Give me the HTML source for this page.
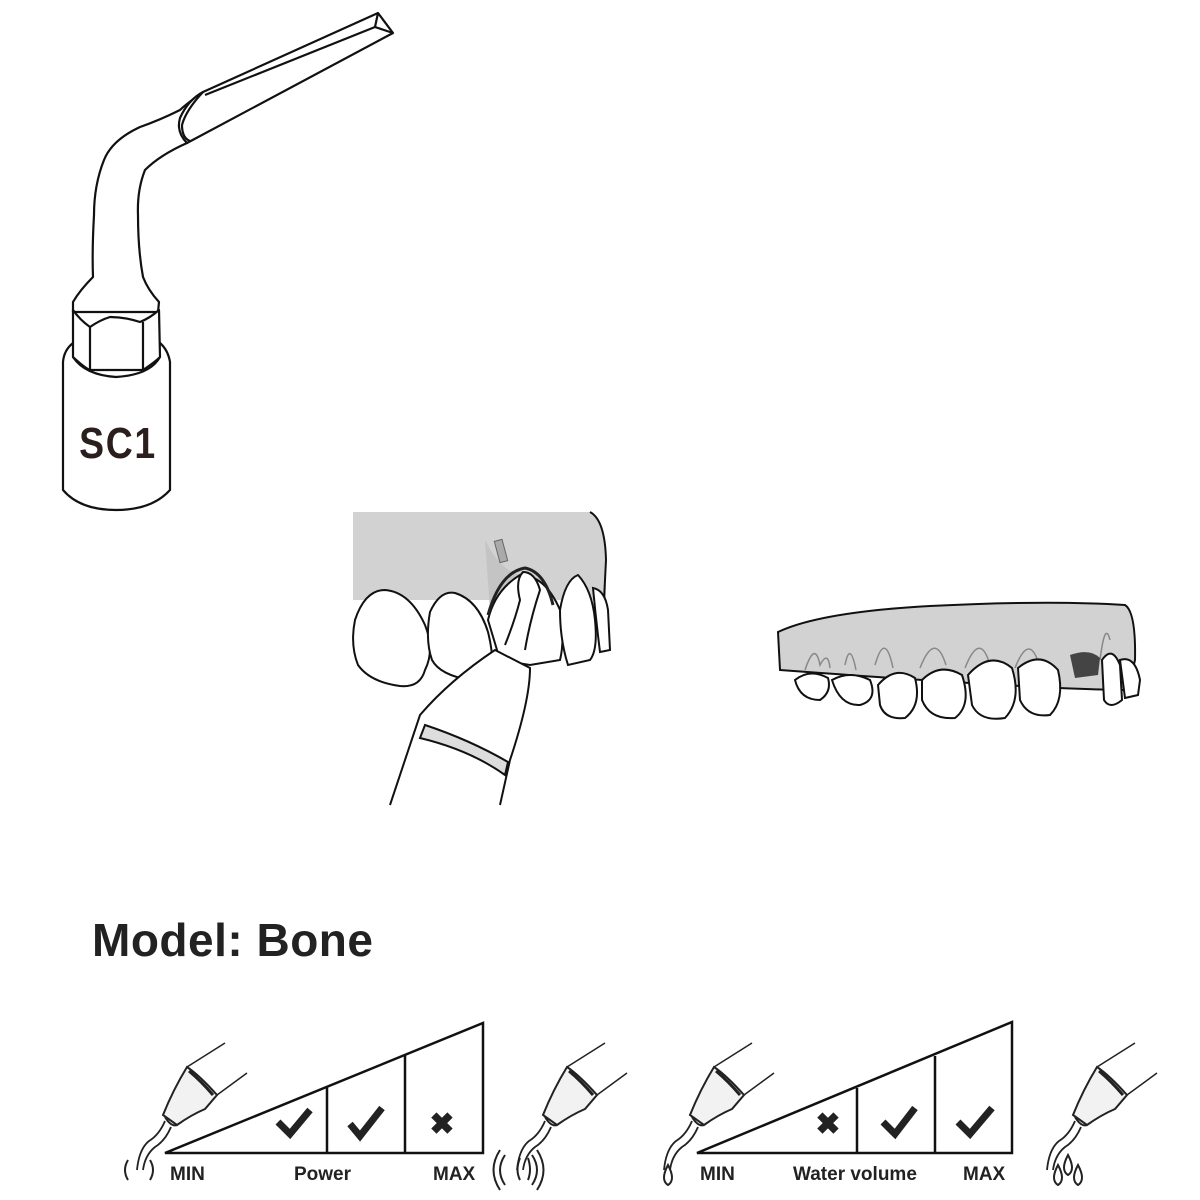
<!DOCTYPE html>
<html><head><meta charset="utf-8"><style>
html,body{margin:0;padding:0;background:#fff;}
svg{display:block;}
</style></head><body>
<svg width="1200" height="1200" viewBox="0 0 1200 1200" xmlns="http://www.w3.org/2000/svg">
<defs>
<g id="hp">
 <path d="M62 22 L100 -2 M92 50 L122 28" stroke="#222" stroke-width="1.5" fill="none"/>
 <path d="M62 22 Q74 30 92 50 L80 64 Q66 70 52 80 L38 70 Q48 45 62 22 Z" fill="#f2f2f2" stroke="#222" stroke-width="2"/>
 <path d="M64 26 Q76 36 88 50" stroke="#222" stroke-width="3" fill="none"/>
 <path d="M40 72 Q46 82 52 80" stroke="#222" stroke-width="2" fill="none"/>
 <path d="M40 76 Q34 90 24 96 Q14 104 12 125 M46 82 Q40 96 30 102 Q20 110 18 125" stroke="#222" stroke-width="1.8" fill="none"/>
</g>
</defs>

<!-- SC1 tip -->
<g stroke="#111" stroke-width="2.2" fill="#fff" stroke-linejoin="round">
 <!-- shank -->
 <path d="M203 92 Q185 105 180 110 Q160 120 140 127 Q112 140 104 160 Q94 185 94 215 Q92 250 93 277 Q80 290 73 302 L73 312 L158 312 L159 302 Q148 290 143 277 Q138 250 138 215 Q137 190 145 170 Q160 155 187 143 Z"/>
 <!-- blade -->
 <path d="M203 92 L378 13 L393 33 L187 143 Q176 132 180 118 Q188 100 203 92 Z"/>
 <path d="M203 92 Q186 110 182 125 Q182 138 190 141" fill="none"/>
 <path d="M375 27 L393 33 M375 27 L378 13" fill="none"/>
 <path d="M205 95 L375 27" fill="none"/>
 <!-- cylinder -->
 <path d="M63 362 L63 490 Q80 510 116 510 Q152 510 170 490 L170 362 Q168 350 160 343 L73 343 Q64 350 63 362 Z"/>
 <path d="M73 357 Q85 375 116 377 Q150 375 160 357" fill="none"/>
 <!-- hex -->
 <path d="M73 310 L73 357 Q85 368 90 370 L143 370 Q155 362 160 357 L159 310 Q150 318 140 322 Q125 317 110 317 Q100 320 90 327 Q80 320 73 310 Z"/>
 <path d="M90 327 L90 370 M143 322 L143 370" fill="none"/>
</g>
<text x="118" y="458" font-family="Liberation Sans, sans-serif" font-weight="bold" font-size="44" text-anchor="middle" fill="#2a1f1c" transform="translate(118 0) scale(0.85 1) translate(-118 0)" letter-spacing="2">SC1</text>

<!-- Left dental illustration -->
<path d="M353 512 L590 512 Q605 520 606 560 L606 600 L353 600 Z" fill="#d2d2d2"/>
<path d="M485 540 Q500 570 520 575 L490 610 Z" fill="#c4c4c4"/>
<path d="M590 512 Q605 520 606 560 L604 600" stroke="#111" stroke-width="2" fill="none"/>
<g stroke="#111" stroke-width="2" fill="#fff">
 <path d="M355 620 Q365 590 385 590 Q410 592 425 625 Q435 650 425 670 Q420 688 400 686 Q370 682 358 665 Q350 645 355 620 Z"/>
 <path d="M430 612 Q440 590 455 593 Q478 600 488 632 Q495 660 490 675 L470 680 Q440 675 432 660 Q425 640 430 612 Z"/>
 <path d="M488 620 Q495 590 520 575 Q545 575 560 610 Q565 640 560 660 L530 665 L500 660 Z"/>
 <path d="M560 610 Q565 580 578 575 Q592 590 595 620 Q598 650 590 660 L568 665 Q560 640 560 610 Z"/>
 <path d="M593 588 Q605 590 608 610 L610 650 L600 652 Q596 620 593 588 Z"/>
 <path d="M390 805 L420 715 Q450 680 495 650 L530 668 Q530 700 510 760 L500 805" />
 <path d="M420 738 Q470 750 505 775 L508 762 Q470 740 425 725 Z" fill="#ddd"/>
 <path d="M505 645 Q515 620 520 600 Q515 580 523 572 Q535 572 540 590 Q530 620 525 650" />
</g>
<path d="M488 615 Q500 572 525 568 Q545 572 553 605" stroke="#222" stroke-width="3" fill="none"/>
<rect x="497" y="540" width="8" height="22" fill="#aaa" stroke="#666" transform="rotate(-15 501 551)"/>

<!-- Right dental illustration -->
<path d="M778 632 Q820 612 930 606 Q1050 600 1125 605 Q1136 612 1135 660 L1128 690 Q1050 690 780 670 Z" fill="#d2d2d2" stroke="#111" stroke-width="2"/>
<g stroke="#888" stroke-width="1.5" fill="none">
 <path d="M805 670 Q815 640 820 665 Q828 650 830 668 M845 665 Q850 640 856 670 M875 665 Q885 630 893 668 M920 668 Q935 630 946 665 M965 668 Q980 630 990 665 M1015 668 Q1030 630 1040 668 M1100 660 Q1105 620 1110 640"/>
</g>
<path d="M1070 655 Q1090 648 1100 658 L1098 675 L1075 678 Z" fill="#444"/>
<g stroke="#111" stroke-width="2" fill="#fff">
 <path d="M795 680 Q810 668 828 678 Q832 692 820 700 Q800 700 795 680 Z"/>
 <path d="M832 680 Q850 670 870 680 Q878 700 860 705 Q840 706 832 680 Z"/>
 <path d="M878 685 Q895 665 915 678 Q922 705 905 718 Q885 720 880 705 Z"/>
 <path d="M922 680 Q940 662 962 675 Q972 705 955 718 Q930 720 922 700 Z"/>
 <path d="M968 675 Q990 650 1012 668 Q1022 700 1005 718 Q980 722 972 705 Z"/>
 <path d="M1018 668 Q1040 650 1058 670 Q1065 700 1050 715 Q1028 718 1020 700 Z"/>
 <path d="M1102 660 Q1112 645 1120 665 L1122 700 Q1110 710 1104 700 Z"/>
 <path d="M1120 660 Q1135 655 1140 680 L1138 695 L1125 698 Z"/>
</g>

<!-- Title -->
<text x="92" y="956" font-family="Liberation Sans, sans-serif" font-weight="bold" font-size="46" fill="#222" letter-spacing="0.5">Model: Bone</text>

<!-- Power chart -->
<g stroke="#111" stroke-width="2.5" fill="none">
 <path d="M165 1153 L483 1023 L483 1153 Z"/>
 <path d="M327 1087 L327 1153 M405 1055 L405 1153"/>
</g>
<path d="M278 1122 L290 1134 L310 1110" stroke="#222" stroke-width="7" fill="none"/>
<path d="M350 1124 L360 1136 L382 1108" stroke="#222" stroke-width="7" fill="none"/>
<text x="442" y="1134" font-family="Liberation Sans, sans-serif" font-weight="bold" font-size="30" fill="#222" text-anchor="middle">✖</text>
<g font-family="Liberation Sans, sans-serif" font-weight="bold" font-size="19" fill="#222">
 <text x="170" y="1180">MIN</text>
 <text x="294" y="1180">Power</text>
 <text x="433" y="1180">MAX</text>
 <text x="700" y="1180">MIN</text>
 <text x="793" y="1180">Water volume</text>
 <text x="963" y="1180">MAX</text>
</g>

<!-- Water chart -->
<g stroke="#111" stroke-width="2.5" fill="none">
 <path d="M697 1153 L1012 1022 L1012 1153 Z"/>
 <path d="M857 1088 L857 1153 M935 1056 L935 1153"/>
</g>
<text x="828" y="1134" font-family="Liberation Sans, sans-serif" font-weight="bold" font-size="30" fill="#222" text-anchor="middle">✖</text>
<path d="M883 1122 L895 1134 L915 1108" stroke="#222" stroke-width="7" fill="none"/>
<path d="M958 1122 L970 1134 L992 1108" stroke="#222" stroke-width="7" fill="none"/>

<!-- handpiece icons -->
<use href="#hp" x="125" y="1045"/>
<use href="#hp" x="505" y="1045"/>
<use href="#hp" x="652" y="1045"/>
<use href="#hp" x="1035" y="1045"/>

<g stroke="#222" stroke-width="2" fill="none">
 <path d="M128 1160 Q122 1170 128 1180 M150 1160 Q156 1170 150 1180"/>
 <path d="M505 1155 Q495 1170 505 1185 M500 1150 Q487 1170 500 1190 M520 1158 Q515 1170 520 1180 M532 1155 Q542 1170 532 1185 M537 1150 Q550 1170 537 1190 M528 1158 Q532 1170 528 1180"/>
 <path d="M668 1165 Q660 1180 668 1185 Q676 1180 668 1165 Z"/>
 <path d="M1058 1165 Q1050 1180 1058 1185 Q1066 1180 1058 1165 Z"/>
 <path d="M1068 1155 Q1060 1170 1068 1175 Q1076 1170 1068 1155 Z"/>
 <path d="M1078 1165 Q1070 1180 1078 1185 Q1086 1180 1078 1165 Z"/>
</g>
</svg>
</body></html>
